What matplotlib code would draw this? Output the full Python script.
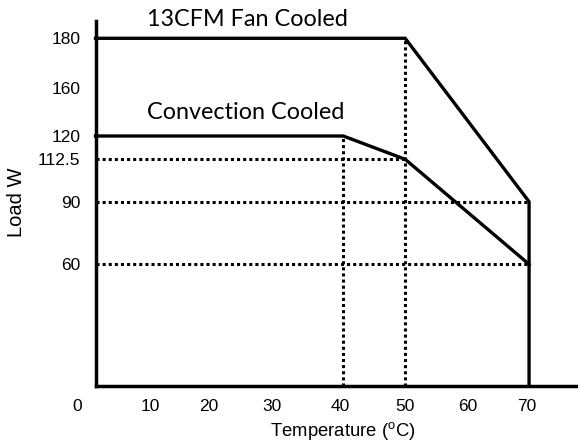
import numpy as np
import matplotlib.pyplot as plt

# derating curves (temperature in degC, load in W)
temp_fan = [0, 50, 70, 70]
load_fan = [180, 180, 90, 0]
temp_conv = [0, 40, 50, 70]
load_conv = [120, 120, 112.5, 60]

# dotted guide lines
guide_load = [112.5, 90, 60]
guide_load_end = [50, 70, 70]
guide_temp = [40, 50]
guide_temp_top = [120, 180]

x_ticks = [10, 20, 30, 40, 50, 60, 70]
y_ticks = [60, 90, 112.5, 120, 160, 180]

# the original y axis is hand drawn, not linear -> piecewise scale
y_knot_val = [0, 60, 90, 112.5, 120, 160, 180, 187]
y_knot_pos = [0, 121.4, 184.0, 226.4, 249.7, 297.7, 347.4, 365.0]
# hand placed x labels (shift in data units)
x_label_pos = [8.8, 18.33, 28.46, 39.49, 50.0, 60.18, 69.7]

W, H = 578, 444
plt.rcParams['mathtext.fontset'] = 'custom'
plt.rcParams['mathtext.rm'] = 'Liberation Sans'

fig = plt.figure(figsize=(W / 100, H / 100), dpi=100)
ax = fig.add_axes([95.5 / W, (H - 385.7) / H, (W - 95.5) / W, (385.7 - 20.7) / H])

fwd = lambda v: np.interp(v, y_knot_val, y_knot_pos)
inv = lambda p: np.interp(p, y_knot_pos, y_knot_val)
ax.set_yscale('function', functions=(fwd, inv))

lw = 2.4
dot = dict(color='black', lw=2.2, linestyle=(0, (1, 1)), clip_on=False, zorder=2)
for ld, te in zip(guide_load, guide_load_end):
	ax.plot([0, te], [ld, ld], **dot)
for te, top in zip(guide_temp, guide_temp_top):
	ax.plot([te, te], [0, top], **dot)

ax.plot(temp_fan, load_fan, color='black', lw=lw, clip_on=False, zorder=3, solid_joinstyle='miter')
ax.plot(temp_conv, load_conv, color='black', lw=lw, clip_on=False, zorder=3, solid_joinstyle='miter')

ax.set_xlim(0, 77.9)
ax.set_ylim(0, 187)

for s in ['top', 'right']:
	ax.spines[s].set_visible(False)
for s in ['left', 'bottom']:
	ax.spines[s].set_linewidth(2.5)
	ax.spines[s].set_zorder(4)

tick_font = dict(family='Liberation Sans', size=12.5)
ax.set_xticks(x_label_pos, [str(v) for v in x_ticks], **tick_font)
ax.set_yticks(y_ticks, ['60', '90', '112.5', '120', '160', '180'], **tick_font)
ax.yaxis.set_minor_locator(plt.NullLocator())
ax.xaxis.set_minor_locator(plt.NullLocator())
ax.tick_params(axis='x', length=0, pad=9.6)
ax.tick_params(axis='y', length=0, pad=11)
ax.annotate('0', xy=(-2.94, 0), xytext=(0, -9.6), textcoords='offset points',
			ha='center', va='top', annotation_clip=False, **tick_font)

fig.text(343 / W, 1 - 431 / H, r'Temperature ($\mathregular{^o}$C)', ha='center', va='center',
		 family='Liberation Sans', size=13.3)
fig.text(16 / W, 1 - 202.5 / H, 'Load W', rotation=90, ha='center', va='center',
		 family='Liberation Sans', size=14.5)

fig.text(147 / W, 1 - 26 / H, '13CFM Fan Cooled', family='Lato', size=16.8, va='baseline')
fig.text(147 / W, 1 - 119.3 / H, 'Convection Cooled', family='Lato', size=16.8, va='baseline')

fig.savefig('out.png', dpi=100)
